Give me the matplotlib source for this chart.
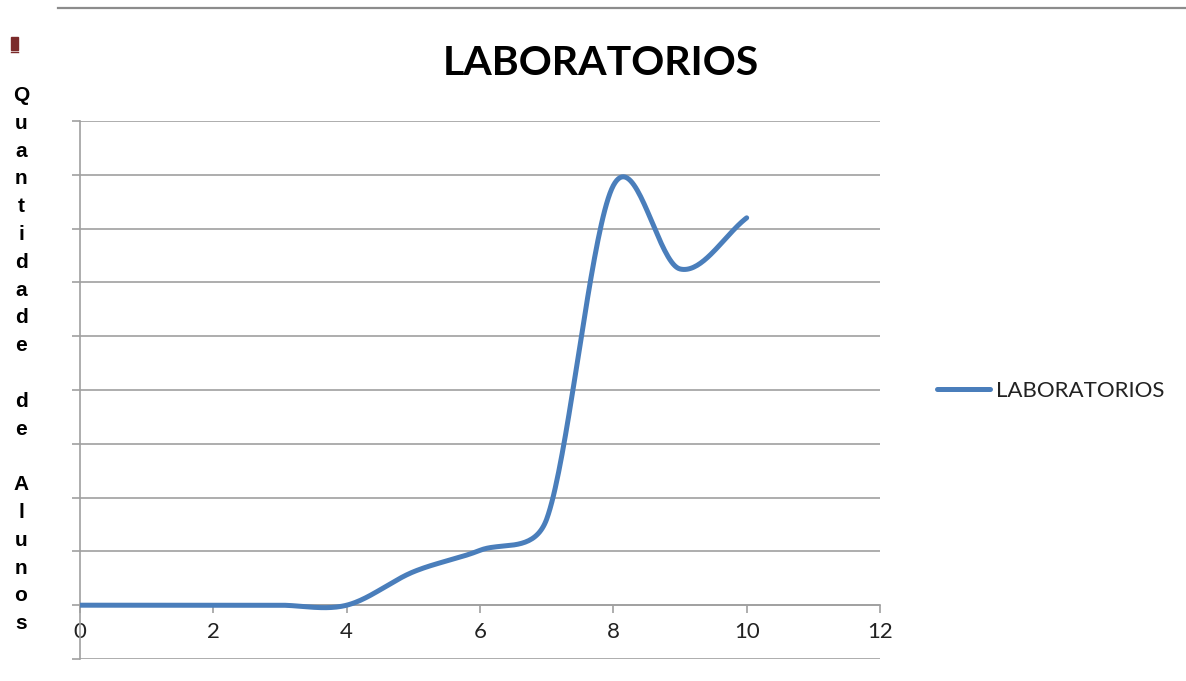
import numpy as np
import matplotlib
matplotlib.use("Agg")
import matplotlib.pyplot as plt
from matplotlib.lines import Line2D
from matplotlib.patches import Rectangle

# data (y in gridline units)
x_vals = [0, 1, 2, 3, 4, 5, 6, 7, 8, 9, 10]
y_vals = [0, 0, 0, 0, 0, 0.62, 1.02, 1.6, 7.8, 6.25, 7.2]
x_ticks = [0, 2, 4, 6, 8, 10, 12]
y_grid = [-1, 0, 1, 2, 3, 4, 5, 6, 7, 8, 9]
series_name = "LABORATORIOS"
y_label = "Quantidade de Alunos"


def smooth(ax, xs, ys, n=40):
    # spreadsheet-like smoothed line: bezier segments built in screen space,
    # control arms = 1/6 of the neighbour chord, capped at half the segment
    P = ax.transData.transform(np.column_stack([xs, ys]))
    k = len(P)
    out = [P[0]]
    t = np.linspace(0, 1, n)[1:, None]
    for i in range(k - 1):
        p0 = P[i - 1] if i > 0 else P[i]
        p1, p2 = P[i], P[i + 1]
        p3 = P[i + 2] if i + 2 < k else P[i + 1]
        half = np.hypot(*(p2 - p1)) / 2
        a = p2 - p0
        b = p3 - p1
        fa = 1 / 6 if i > 0 else 1 / 3
        fb = 1 / 6 if i + 2 < k else 1 / 3
        la, lb = np.hypot(*a), np.hypot(*b)
        c1 = p1 + a * min(fa, half / la)
        c2 = p2 - b * min(fb, half / lb)
        seg = (1 - t)**3 * p1 + 3 * (1 - t)**2 * t * c1 + 3 * (1 - t) * t**2 * c2 + t**3 * p2
        out.extend(seg)
    out = ax.transData.inverted().transform(np.array(out))
    return out[:, 0], out[:, 1]


W, H = 1186, 681
fig = plt.figure(figsize=(W / 100, H / 100), dpi=100)
ax = fig.add_axes([80 / W, 1 - 659 / H, 800 / W, (659 - 121) / H])
ax.set_xlim(0, 12)
ax.set_ylim(-1, 9)

sx, sy = smooth(ax, x_vals, y_vals)
ax.plot(sx, sy, color="#4a7ebb", lw=3.6, solid_capstyle="round", label=series_name, zorder=3)

ax.set_xticks(x_ticks)
ax.set_yticks(y_grid)
ax.set_yticklabels([])
ax.grid(axis="y", color="#a0a0a0", lw=1.2)
ax.set_axisbelow(True)

for s in ["top", "right"]:
    ax.spines[s].set_visible(False)
ax.spines["bottom"].set_position(("data", 0))
ax.spines["bottom"].set_color("#a0a0a0")
ax.spines["left"].set_color("#a0a0a0")
ax.spines["bottom"].set_linewidth(1.2)
ax.spines["left"].set_linewidth(1.2)
ax.tick_params(axis="both", direction="out", length=6, width=1.2, color="#a0a0a0")
ax.tick_params(axis="x", pad=6, labelsize=16, labelcolor="#222222")
for lab in ax.get_xticklabels():
    lab.set_fontfamily("Lato")

fig.text(601 / W, 1 - 75 / H, series_name, ha="center", va="baseline",
         fontsize=29.5, fontweight="bold", family="Lato")

leg = ax.legend(loc="center left", bbox_to_anchor=(937 / W, 1 - 391 / H),
                bbox_transform=fig.transFigure, frameon=False, borderpad=0,
                borderaxespad=0, handlelength=2.4, handletextpad=0.25,
                prop={"family": "Lato", "size": 16})
for t in leg.get_texts():
    t.set_color("#222222")

# stacked letters of the y axis title
for i, ch in enumerate(y_label):
    if ch == " ":
        continue
    fig.text(21 / W, 1 - (101 + 27.8 * i) / H, ch, ha="center", va="baseline",
             fontsize=15, fontweight="bold", family="Liberation Sans")

# small marker and rule at the top of the page
fig.add_artist(Rectangle((11 / W, 1 - 50 / H), 7 / W, 13 / H, color="#7b2a2a",
                         transform=fig.transFigure))
fig.add_artist(Line2D([11 / W, 18 / W], [1 - 52 / H] * 2, color="#7b2a2a", lw=1,
                      transform=fig.transFigure))
fig.add_artist(Line2D([58 / W, 1.0], [1 - 8 / H] * 2, color="#8c8c8c", lw=1.6,
                      transform=fig.transFigure))

fig.savefig("out.png", dpi=100)
